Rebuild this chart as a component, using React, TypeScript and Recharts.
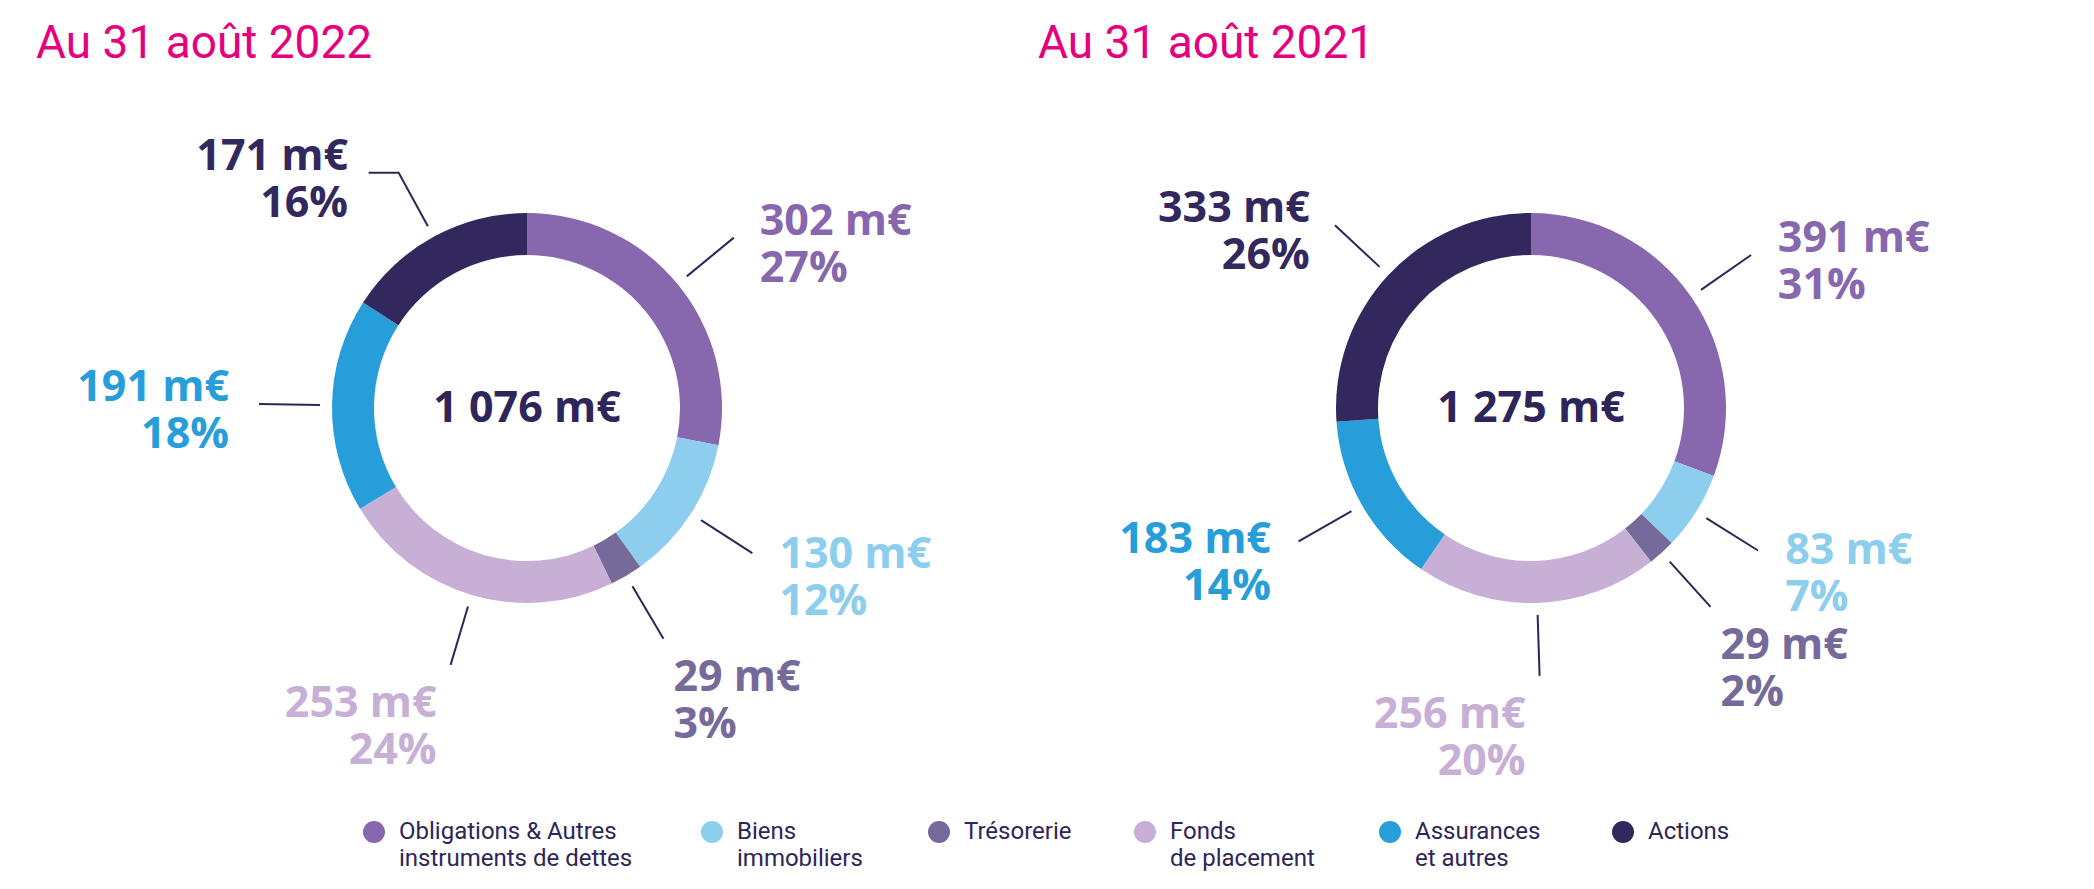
import React from 'react';
import { PieChart, Pie, Cell } from 'recharts';

// categories, in drawing order (clockwise from 12 o'clock)
const CATEGORIES = [
  'Obligations & Autres instruments de dettes',
  'Biens immobiliers',
  'Trésorerie',
  'Fonds de placement',
  'Assurances et autres',
  'Actions',
];
const LEGEND_LINES = [
  ['Obligations & Autres', 'instruments de dettes'],
  ['Biens', 'immobiliers'],
  ['Trésorerie'],
  ['Fonds', 'de placement'],
  ['Assurances', 'et autres'],
  ['Actions'],
];
const COLORS = ['#8767ad', '#8dcdee', '#756a9a', '#c8afd5', '#279dd9', '#33285e'];

// m€
const VALUES_2022 = [302, 130, 29, 253, 191, 171];
const PCT_2022 = [27, 12, 3, 24, 18, 16];
const VALUES_2021 = [391, 83, 29, 256, 183, 333];
const PCT_2021 = [31, 7, 2, 20, 14, 26];

const TITLES = ['Au 31 août 2022', 'Au 31 août 2021'];

const NAVY = '#2e2559';
const PINK = '#e6007e';
const LABEL_FONT = '"Open Sans", sans-serif';
const RAD = Math.PI / 180;
// legend dot centres
const LEGEND_X = [374, 712, 939, 1145, 1390, 1623];

if (typeof document !== 'undefined') document.body.style.margin = '0';

const fmt = (n: number) => String(n).replace(/\B(?=(\d{3})+(?!\d))/g, ' ');

const toRows = (vals: number[], pcts: number[]) =>
  CATEGORIES.map((name, i) => ({ name, value: vals[i], pct: pcts[i] }));

// leader line + two line label outside the ring (and the total in the hole)
function renderLabel(props: any) {
  const { cx, cy, midAngle, outerRadius, fill, value, payload, percent, index } = props;
  const dx = Math.cos(-midAngle * RAD);
  const dy = Math.sin(-midAngle * RAD);
  const r0 = outerRadius + 12;
  const r1 = outerRadius + 73;
  const x0 = cx + r0 * dx;
  const y0 = cy + r0 * dy;
  let x1 = cx + r1 * dx;
  const y1 = cy + r1 * dy;
  const right = dx > 0.2;
  const pts = [`${x0},${y0}`, `${x1},${y1}`];
  if (dy < -0.8) {
    x1 += right ? 30 : -30;
    pts.push(`${x1},${y1}`);
  }
  const below = dy > 0.65;
  const gap = below ? (right ? 10 : 14) : 12 + 18 * Math.abs(dx);
  const tx = right ? x1 + gap : x1 - gap;
  const centerY = below ? y1 + 60 : y1 + 5 + 60 * Math.max(0, dy) ** 2;
  const base = centerY - 8;
  const textProps = {
    textAnchor: right ? 'start' : 'end',
    fill,
    fontFamily: LABEL_FONT,
    fontWeight: 700,
    fontSize: 43,
  } as const;
  return (
    <g>
      <polyline points={pts.join(' ')} fill="none" stroke={NAVY} strokeWidth={2} />
      <text x={tx} y={base} {...textProps}>{`${value} m€`}</text>
      <text x={tx} y={base + 47} {...textProps}>{`${payload.pct}%`}</text>
      {index === 0 && (
        <text
          x={cx}
          y={cy + 14}
          textAnchor="middle"
          fill={NAVY}
          fontFamily={LABEL_FONT}
          fontWeight={700}
          fontSize={43}
        >
          {`${fmt(Math.round(value / percent))} m€`}
        </text>
      )}
    </g>
  );
}

function Donut({ data, cx }: { data: { name: string; value: number; pct: number }[]; cx: number }) {
  return (
    <Pie
      key={cx}
      data={data}
      dataKey="value"
      cx={cx}
      cy={408}
      innerRadius={153}
      outerRadius={195}
      startAngle={90}
      endAngle={-270}
      stroke="none"
      label={renderLabel}
      labelLine={false}
      isAnimationActive={false}
    >
      {data.map((_, i) => (
        <Cell key={i} fill={COLORS[i]} />
      ))}
    </Pie>
  );
}

export default function App() {
  const d22 = toRows(VALUES_2022, PCT_2022);
  const d21 = toRows(VALUES_2021, PCT_2021);
  return (
    <div style={{ position: 'relative', width: 2094, height: 889, background: '#fff', overflow: 'hidden' }}>
      {TITLES.map((t, i) => (
        <div
          key={t}
          style={{
            position: 'absolute',
            left: i === 0 ? 36 : 1038,
            top: 15,
            fontFamily: 'Roboto, sans-serif',
            fontSize: 46,
            color: PINK,
            whiteSpace: 'nowrap',
          }}
        >
          {t}
        </div>
      ))}

      <div style={{ position: 'absolute', left: 0, top: 0 }}>
        <PieChart width={2094} height={889} margin={{ top: 0, right: 0, bottom: 0, left: 0 }}>
          {Donut({ data: d22, cx: 527 })}
          {Donut({ data: d21, cx: 1531 })}
        </PieChart>
      </div>

      {/* legend */}
      {LEGEND_LINES.map((lines, i) => (
        <div
          key={i}
          style={{
            position: 'absolute',
            left: LEGEND_X[i] - 11,
            top: 818,
            display: 'flex',
            alignItems: 'flex-start',
            fontFamily: 'Roboto, sans-serif',
            fontSize: 24,
            lineHeight: '27px',
            color: NAVY,
          }}
        >
          <span
            style={{
              width: 22,
              height: 22,
              borderRadius: '50%',
              background: COLORS[i],
              marginTop: 3,
              marginRight: 14,
              flex: 'none',
            }}
          />
          <div>
            {lines.map((l) => (
              <div key={l} style={{ whiteSpace: 'nowrap' }}>{l}</div>
            ))}
          </div>
        </div>
      ))}
    </div>
  );
}
